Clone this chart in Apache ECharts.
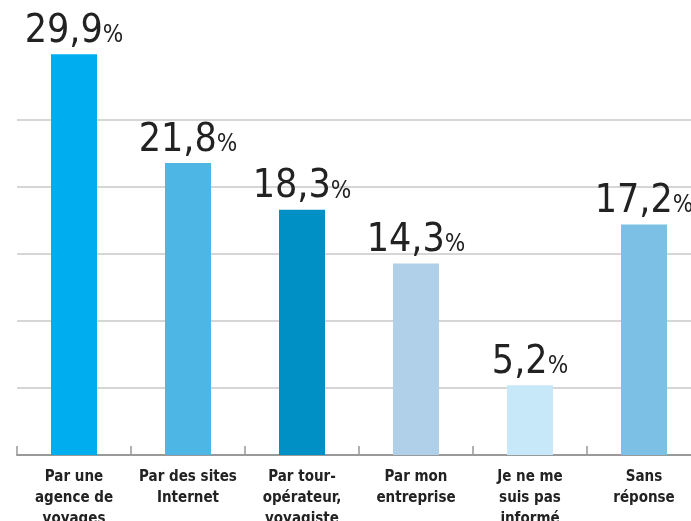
<!DOCTYPE html>
<html>
<head>
<meta charset="utf-8">
<script src="https://cdn.jsdelivr.net/npm/echarts@6/dist/echarts.min.js"></script>
<style>
  html, body { margin: 0; padding: 0; background: #fff; }
  #chart { width: 691px; height: 521px; }
</style>
</head>
<body>
<div id="chart"></div>
<script>
// categories / values
let categories = ['Par une\nagence de\nvoyages', 'Par des sites\nInternet', 'Par tour-\nopérateur,\nvoyagiste',
                  'Par mon\nentreprise', 'Je ne me\nsuis pas\ninformé', 'Sans\nréponse'];
let values = [29.9, 21.8, 18.3, 14.3, 5.2, 17.2];
let barColors = ['#00aeef', '#4db6e4', '#0090c6', '#afd0e8', '#c6e8f8', '#7cc0e5'];

let Chart_bar = echarts.init(document.getElementById('chart'));

let narrow = 'DejaVu Sans Condensed, Liberation Sans Narrow, sans-serif';

let option = {
    animation: false,
    grid: {
        left: 17,
        top: 53,
        width: 684,
        bottom: 66,
        outerBoundsMode: 'none',
        containLabel: false
    },
    xAxis: {
        type: 'category',
        data: categories,
        axisLine: { lineStyle: { color: '#999', width: 2 } },
        axisTick: { show: true, interval: 0, inside: true, length: 9, lineStyle: { color: '#999', width: 1.5 } },
        axisLabel: {
            interval: 0,
            margin: 12,
            fontSize: 15,
            fontWeight: 'bold',
            lineHeight: 21,
            color: '#222',
            fontFamily: narrow
        }
    },
    yAxis: {
        type: 'value',
        min: 0,
        max: 30,
        interval: 5,
        axisLabel: { show: false },
        axisLine: { show: false },
        axisTick: { show: false },
        splitLine: {
            showMaxLine: false,
            lineStyle: { color: '#c8c8c8', width: 1.5 }
        }
    },
    series: [{
        type: 'bar',
        barWidth: 46,
        data: values.map(function (v, i) {
            return { value: v, itemStyle: { color: barColors[i] } };
        }),
        label: {
            show: true,
            position: 'top',
            distance: 3,
            formatter: function (p) {
                return '{a|' + p.value.toFixed(1).replace('.', ',') + '}{b|%}';
            },
            rich: {
                a: { fontSize: 39, color: '#222', fontFamily: narrow },
                b: { fontSize: 24, color: '#222', fontFamily: narrow, padding: [8, 0, 0, 0] }
            }
        }
    }]
};

Chart_bar.setOption(option);
</script>
</body>
</html>
